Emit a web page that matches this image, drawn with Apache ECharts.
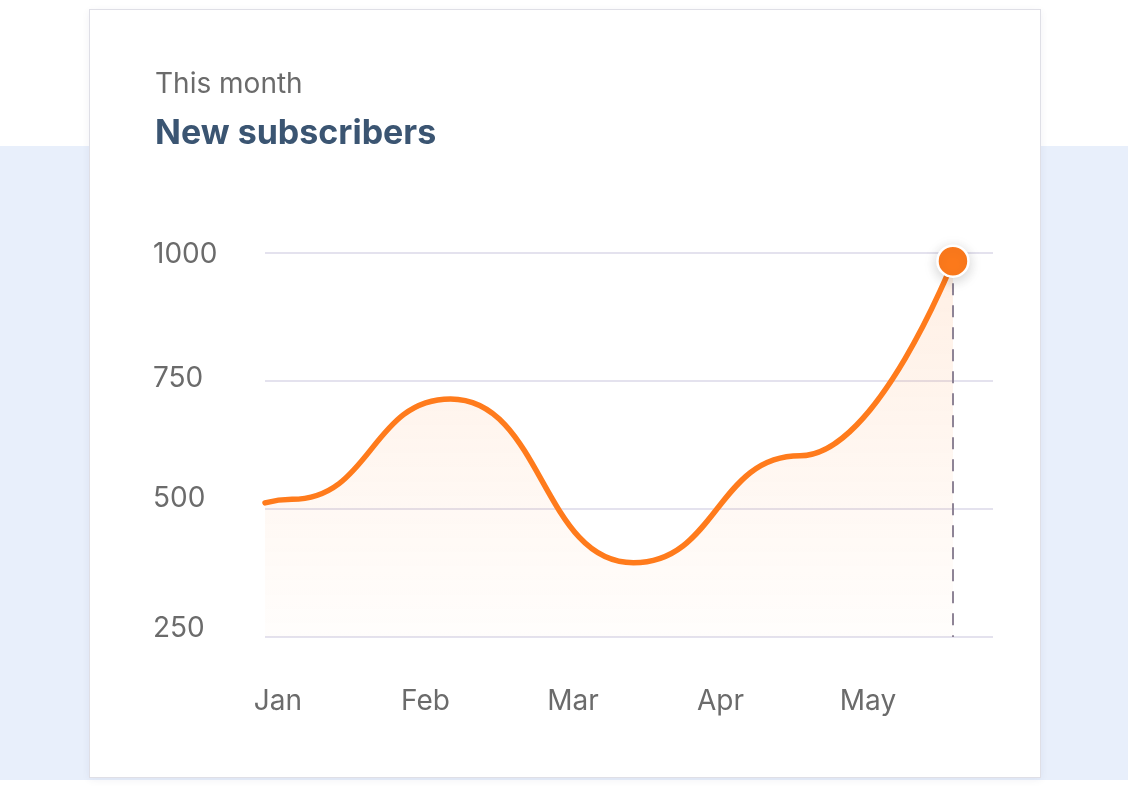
<!DOCTYPE html>
<html>
<head>
<meta charset="utf-8">
<script src="https://cdn.jsdelivr.net/npm/echarts@6/dist/echarts.min.js"></script>
<style>
  html, body { margin: 0; padding: 0; width: 1128px; height: 796px; background: #ffffff; overflow: hidden; font-family: Inter, sans-serif; }
  #band { position: absolute; left: 0; top: 146px; width: 1128px; height: 634px; background: #e8effb; }
  #card { position: absolute; left: 89px; top: 9px; width: 950px; height: 767px; background: #ffffff; border: 1px solid #dfdfe6; box-shadow: 0 2px 8px rgba(40,40,80,0.06); }
  #chart { position: absolute; left: 0; top: 0; width: 1128px; height: 796px; }
</style>
</head>
<body>
<div id="band"></div>
<div id="card"></div>
<div id="chart"></div>
<script>
// ---- data (x in months: Jan = 0) ----
const monthLabels = ['Jan', 'Feb', 'Mar', 'Apr', 'May'];
const monthTicks = [0, 1, 2, 3, 4];
const xPos = [-0.088, 0.095, 1.170, 2.410, 3.539, 4.576];
const subscribers = [512, 519, 715, 395, 604, 984];
const yTicks = [250, 500, 750, 1000];

const lineData = xPos.map((x, i) => [x, subscribers[i]]);
const last = lineData[lineData.length - 1];
const orange = '#ff7b1c';

// vertical nudge of the y labels as in the reference: [top, bottom] padding
const yLabelPad = { 1000: [4, 0], 750: [0, 4], 500: [0, 20], 250: [0, 16] };
const rich = {};
yTicks.forEach(v => {
  rich['v' + v] = { fontFamily: 'Inter', fontSize: 28, color: '#6b6b6b', padding: [yLabelPad[v][0], 0, yLabelPad[v][1], 0] };
});

const chart = echarts.init(document.getElementById('chart'), null, { renderer: 'canvas' });
chart.setOption({
  backgroundColor: 'transparent',
  animation: false,
  textStyle: { fontFamily: 'Inter' },
  title: [
    { text: 'This month', left: 150, top: 66, textStyle: { fontFamily: 'Inter', fontSize: 28, fontWeight: 'normal', color: '#6b6b6b' } },
    { text: 'New subscribers', left: 150, top: 112, textStyle: { fontFamily: 'Inter', fontSize: 34, fontWeight: 'bold', color: '#3b5572' } }
  ],
  grid: { left: 265, right: 135, top: 253, bottom: 159, containLabel: false },
  xAxis: {
    type: 'value',
    min: -0.0881,
    max: 4.8475,
    axisLine: { show: false },
    axisTick: { show: false },
    splitLine: { show: false },
    axisLabel: {
      customValues: monthTicks,
      formatter: v => monthLabels[Math.round(v)],
      margin: 51,
      fontFamily: 'Inter',
      fontSize: 28,
      color: '#6b6b6b'
    }
  },
  yAxis: {
    type: 'value',
    min: yTicks[0],
    max: yTicks[yTicks.length - 1],
    interval: 250,
    axisLine: { show: false },
    axisTick: { show: false },
    splitLine: { lineStyle: { color: '#e4e2ee', width: 2 } },
    axisLabel: {
      align: 'left',
      margin: 112,
      formatter: v => '{v' + v + '|' + v + '}',
      rich: rich
    }
  },
  series: [
    {
      type: 'line',
      data: lineData,
      smooth: 0.5,
      smoothMonotone: 'x',
      showSymbol: false,
      lineStyle: { color: orange, width: 5.5, cap: 'round' },
      areaStyle: {
        color: new echarts.graphic.LinearGradient(0, 0, 0, 1, [
          { offset: 0, color: 'rgba(255,123,28,0.17)' },
          { offset: 1, color: 'rgba(255,123,28,0.02)' }
        ])
      },
      markLine: {
        silent: true,
        symbol: ['none', 'none'],
        label: { show: false },
        lineStyle: { color: '#8e8496', type: [12, 10], width: 2 },
        data: [[{ coord: [last[0], last[1]] }, { coord: [last[0], yTicks[0]] }]]
      },
      z: 2
    },
    {
      type: 'scatter',
      data: [last],
      symbol: 'circle',
      symbolSize: 31,
      itemStyle: {
        color: orange,
        opacity: 1,
        borderColor: '#ffffff',
        borderWidth: 2.5,
        shadowBlur: 14,
        shadowColor: 'rgba(0,0,0,0.18)',
        shadowOffsetY: 3
      },
      z: 5
    }
  ]
});
</script>
</body>
</html>
